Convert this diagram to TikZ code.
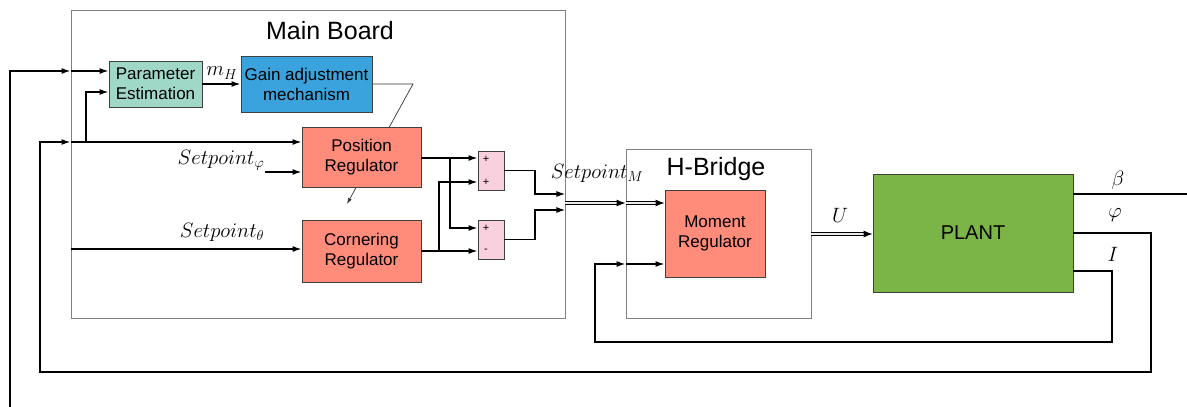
\documentclass[tikz,border=0pt]{standalone}
\usepackage[no-math]{fontspec}
\setmainfont{Liberation Sans}
\usetikzlibrary{positioning,arrows.meta,backgrounds}
\definecolor{peteal}{HTML}{A0D8C8}
\definecolor{gainblue}{HTML}{3AA2DC}
\definecolor{regsalmon}{HTML}{FF8B7B}
\definecolor{sumpink}{HTML}{F8D0DE}
\definecolor{plantgreen}{HTML}{7BB548}
\tikzset{
  blk/.style={draw=black!75,line width=0.8pt,align=center,inner sep=0pt,
    font=\fontsize{17}{20}\selectfont},
  frm/.style={draw=black!50,line width=0.9pt,inner sep=0pt},   % board outline
  ttl/.style={font=\fontsize{25}{28}\selectfont},
  wire/.style={line width=1.5pt},
  conn/.style={wire,-{Latex[length=9pt,width=6pt]}},
  bus/.style={line width=1pt,double=black!8,double distance=2pt,
    -{Latex[length=9pt,width=7pt]}},                            % vector signal
  sig/.style={font=\fontsize{20}{22}\selectfont,inner sep=1pt},
  sgn/.style={font=\fontsize{11}{12}\selectfont,inner sep=0pt},
  adj/.style={line width=0.7pt,draw=black!80,-{Latex[length=6pt,width=4pt]}},
}
\begin{document}
\begin{tikzpicture}[x=1pt,y=-1pt]
  \useasboundingbox (0,0) rectangle (1187,407);
  % board outlines
  \node[frm,minimum width=494,minimum height=308] (mainbrd) at (318,164) {};
  \node[ttl] (mbtitle) at (330,31) {Main Board};
  \node[frm,minimum width=185,minimum height=169] (hbridge) at (718.5,233.5) {};
  \node[ttl] (hbtitle) at (716,169) {H-Bridge};
  % blocks
  \node[blk,fill=peteal,minimum width=93,minimum height=46] (pe) at (155.5,84) {Parameter\\Estimation};
  \node[blk,fill=gainblue,minimum width=131,minimum height=56] (gain) at (306.5,84) {Gain adjustment\\mechanism};
  \node[blk,fill=regsalmon,minimum width=119,minimum height=60] (posreg) at (361.5,157) {Position\\Regulator};
  \node[blk,fill=regsalmon,minimum width=119,minimum height=62] (correg) at (361.5,251) {Cornering\\Regulator};
  \node[blk,fill=sumpink,minimum width=26,minimum height=39] (sumA) at (491,170.5) {};
  \node[blk,fill=sumpink,minimum width=26,minimum height=39] (sumB) at (491,239.5) {};
  \node[sgn] (sA1) at (486,159) {+};
  \node[sgn] (sA2) at (486,182) {+};
  \node[sgn] (sB1) at (486,228) {+};
  \node[sgn] (sB2) at (486,251) {-};
  \node[blk,fill=regsalmon,minimum width=100,minimum height=87] (momreg) at (715,233.5) {Moment\\Regulator};
  \node[blk,fill=plantgreen,minimum width=200,minimum height=118,font=\fontsize{20}{22}\selectfont] (plant) at (973,233) {PLANT};
  % gain adjustment acts on the regulators
  \begin{scope}[on background layer]
    \coordinate (gbend) at (413,84);
    \coordinate (gtip) at (347,204);
    \draw[adj] (gain.east) -- (gbend) -- (gtip);
  \end{scope}
  \node[sig] (lmh) at (222,73) {$m_H$};
  \draw[conn] (pe.east) -- (gain.west);
  % plant outputs and feedbacks
  \coordinate (betaout) at (1187,194);
  \draw[wire] (plant.east |- betaout) -- (betaout);
  \node[sig] (lbeta) at (1118,180) {$\beta$};
  \coordinate (betain) at (10,407);
  \draw[conn] (betain) |- (mainbrd.west |- 0,71);
  \draw[conn] (mainbrd.west |- 0,71) -- (pe.west |- 0,71);
  \coordinate (phiR) at (1151,233);
  \coordinate (phiL) at (40,372);
  \draw[conn] (plant.east |- phiR) -- (phiR) |- (phiL) |- (mainbrd.west |- 0,142);
  \draw[conn] (mainbrd.west |- 0,142) -- (posreg.west |- 0,142);
  \coordinate (phibr) at (86,142);
  \draw[conn] (phibr) |- (pe.west |- 0,92);
  \node[sig] (lphi) at (1115,215) {$\varphi$};
  \coordinate (curR) at (1112,342);
  \coordinate (curL) at (595,264);
  \draw[conn] (plant.east |- 0,271) -| (curR) -| (curL) -- (hbridge.west |- curL);
  \draw[conn] (hbridge.west |- curL) -- (momreg.west |- curL);
  \node[sig] (lcur) at (1113,254) {$I$};
  % setpoints
  \coordinate (spphi) at (265,172);
  \draw[conn] (spphi) -- (posreg.west |- spphi);
  \node[sig] (lspphi) at (221,160) {$Setpoint_\varphi$};
  \draw[conn] (mainbrd.west |- 0,249) -- (correg.west |- 0,249);
  \node[sig] (lsptheta) at (222,232) {$Setpoint_\theta$};
  % regulator outputs to the sums
  \draw[conn] (posreg.east |- 0,158) -- (sumA.west |- 0,158);
  \draw[conn] (450,158) |- (sumB.west |- 0,228);
  \draw[conn] (correg.east |- 0,251) -- (sumB.west |- 0,251);
  \draw[conn] (439,251) |- (sumA.west |- 0,182);
  \draw[conn] (sumA.east) -| (535,194) -- (mainbrd.east |- 0,194);
  \draw[conn] (sumB.east) -| (535,210) -- (mainbrd.east |- 0,210);
  % moment setpoint and voltage
  \draw[bus] (mainbrd.east |- 0,203) -- (hbridge.west |- 0,203);
  \draw[bus] (hbridge.west |- 0,203) -- (momreg.west |- 0,203);
  \node[sig] (lspm) at (597,173) {$Setpoint_M$};
  \draw[bus] (hbridge.east |- 0,234) -- (plant.west |- 0,234);
  \node[sig] (lu) at (840,215) {$U$};
\end{tikzpicture}
\end{document}
